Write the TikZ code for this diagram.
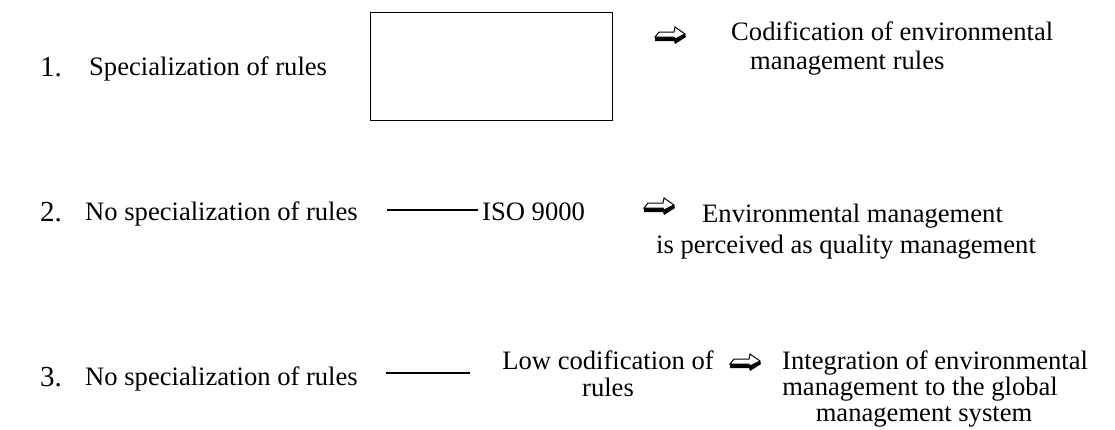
\documentclass[tikz,border=0pt]{standalone}
\usepackage{fontspec}
\setmainfont{Liberation Serif}
\begin{document}
\begin{tikzpicture}[x=1pt,y=-1pt,
  lbl/.style={inner sep=0pt, font=\fontsize{26.6}{30}\selectfont},
  num/.style={inner sep=0pt, font=\fontsize{29}{32}\selectfont},
  link/.style={line width=1.4pt},
  frame/.style={draw, line width=1.4pt, inner sep=0pt},
  pics/hollowarrow/.style={code={
    % dark extruded side
    \fill[black] (-15,2) -- (-15,6) -- (4,6) -- (5,9) -- (16,2) -- (15,-1) -- cycle;
    % white top face
    \filldraw[fill=white, draw=black, line width=1pt, line join=miter]
      (-11,-3) -- (4,-3) -- (5,-8) -- (15,-1) -- (5,4) -- (4,2) -- (-15,2) -- cycle;
  }}
]
\useasboundingbox (0,0) rectangle (1115,429);

% row 1
\node[num, anchor=base west] (n1) at (40,76) {1.};
\node[lbl, anchor=base west] (spec1) at (89,75) {Specialization of rules};
\node[frame, anchor=north west, minimum width=242, minimum height=108] (box) at (370,12) {};
\pic at (670,35) {hollowarrow};
\node[lbl, anchor=base west] (cod1a) at (731,40) {Codification of environmental};
\node[lbl, anchor=base west] (cod1b) at (750,69) {management rules};

% row 2
\node[num, anchor=base west] (n2) at (40,221) {2.};
\node[lbl, anchor=base west] (spec2) at (85,220) {No specialization of rules};
\node[lbl, anchor=base west] (iso) at (482,220) {ISO 9000};
\coordinate (l2) at (387,210);
\draw[link] (l2) -- ([xshift=-4]iso.west |- l2);
\pic at (659,206) {hollowarrow};
\node[lbl, anchor=base west] (env2a) at (702,222) {Environmental management};
\node[lbl, anchor=base] (env2b) at (846,253) {is perceived as quality management};

% row 3
\node[num, anchor=base west] (n3) at (40,386) {3.};
\node[lbl, anchor=base west] (spec3) at (85,385) {No specialization of rules};
\node[lbl, anchor=base] (low3a) at (608,369) {Low codification of};
\node[lbl, anchor=base] (low3b) at (608,396) {rules};
\coordinate (l3a) at (386,373);
\coordinate (l3b) at (470,373);
\draw[link] (l3a) -- (l3b);
\pic at (745,362) {hollowarrow};
\node[lbl, anchor=base west] (int3a) at (782,369) {Integration of environmental};
\node[lbl, anchor=base] (int3b) at (920,395) {management to the global};
\node[lbl, anchor=base] (int3c) at (924,421) {management system};
\end{tikzpicture}
\end{document}
